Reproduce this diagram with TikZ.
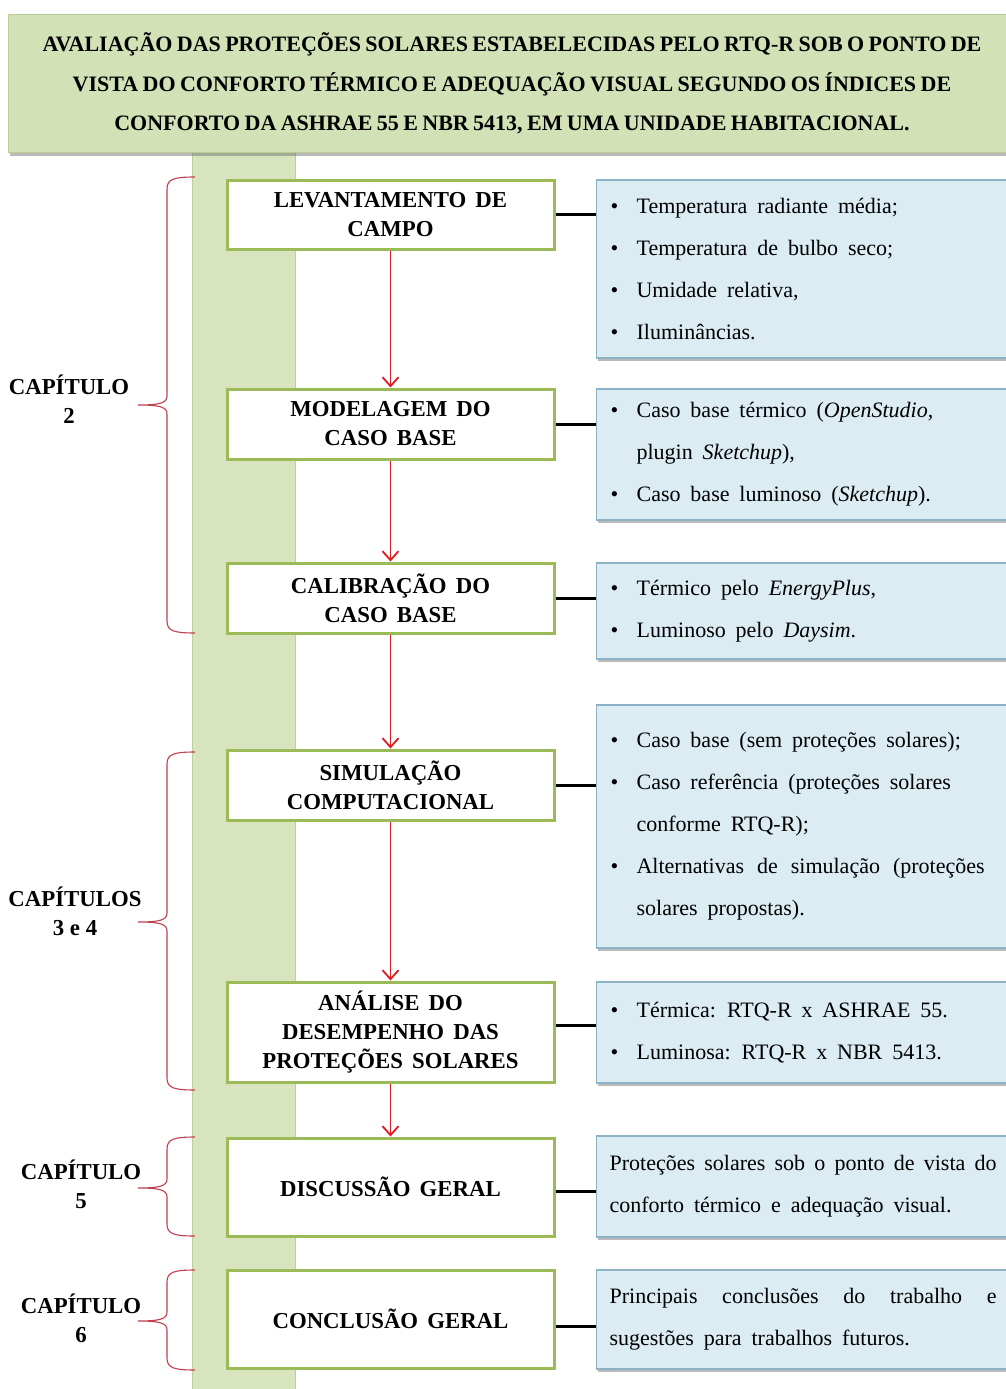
\documentclass[tikz,border=0pt]{standalone}
\usepackage{fontspec}
\setmainfont{Liberation Serif}
\usetikzlibrary{arrows.meta,shadows}

\definecolor{titlegreen}{RGB}{211,225,183}
\definecolor{titleedge}{RGB}{185,205,150}
\definecolor{bargreen}{RGB}{215,228,190}
\definecolor{baredge}{RGB}{188,206,155}
\definecolor{boxgreen}{RGB}{155,187,89}
\definecolor{infoblue}{RGB}{219,236,243}
\definecolor{infoedge}{RGB}{140,178,198}
\definecolor{flowred}{RGB}{222,28,36}
\definecolor{bracered}{RGB}{192,62,78}

\newcommand\titletext{\bfseries\fontsize{22}{39.5}\selectfont\spaceskip=0.2em\relax}
\newcommand\steptext{\bfseries\fontsize{22.8}{29}\selectfont\spaceskip=0.4em plus 0.1em\relax}
\newcommand\infotext{\fontsize{22}{42}\selectfont}
\newcommand\infospace{\spaceskip=0.45em plus 0.1em minus 0.05em\relax}
\newcommand\bul{\makebox[27pt][l]{\hspace{1pt}\textbullet}}
\newcommand\ind{\hspace*{27pt}}
% chapter brace: top y, bottom y, tip y
\newcommand\chbrace[3]{%
  \draw[bracestyle] (195,#1) .. controls (174,#1) and (167,#1+2) .. (167,#1+12)
    -- (167,#3-9) .. controls (167,#3-2) and (160,#3) .. (138,#3)
    .. controls (160,#3) and (167,#3+2) .. (167,#3+9)
    -- (167,#2-12) .. controls (167,#2-2) and (174,#2) .. (195,#2);}

\begin{document}
\begin{tikzpicture}[x=1pt,y=-1pt,
  stepbox/.style={draw=boxgreen, line width=3pt, fill=white,
    minimum width=327pt, inner sep=3pt, align=center, font=\steptext},
  infobox/.style={draw=infoedge, line width=1.2pt, fill=infoblue, anchor=west,
    text width=394pt, inner xsep=13pt, inner ysep=4pt, align=left, font=\infotext,
    execute at begin node=\infospace,
    drop shadow={shadow xshift=1pt, shadow yshift=-3pt, fill=black!60, opacity=0.45}},
  chaplabel/.style={align=center, font=\bfseries\fontsize{22.8}{29}\selectfont},
  flow/.style={draw=flowred, line width=1.8pt,
    -{Straight Barb[length=9pt,width=16pt,line width=1.8pt]}},
  link/.style={draw=black, line width=3pt},
  bracestyle/.style={draw=bracered, line width=1.1pt}]

\useasboundingbox (0,0) rectangle (1006,1389);
\clip (0,0) rectangle (1006,1389);
\fill[white] (0,0) rectangle (1006,1389);

% vertical guide bar
\fill[bargreen] (192,140) rectangle (296,1400);
\draw[baredge, line width=1.2pt] (192.5,140) -- (192.5,1400) (295.5,140) -- (295.5,1400);

% title banner
\node[draw=titleedge, line width=1pt, fill=titlegreen, minimum width=1008pt,
  minimum height=137pt, align=center, font=\titletext,
  drop shadow={shadow xshift=2pt, shadow yshift=-4pt, fill=black!60, opacity=0.45}]
  (title) at (512,83.5)
  {AVALIAÇÃO DAS PROTEÇÕES SOLARES ESTABELECIDAS PELO RTQ-R SOB O PONTO DE\\
   VISTA DO CONFORTO TÉRMICO E ADEQUAÇÃO VISUAL SEGUNDO OS ÍNDICES DE\\
   CONFORTO DA ASHRAE 55 E NBR 5413, EM UMA UNIDADE HABITACIONAL.};

% process steps
\node[stepbox, minimum height=69pt] (g1) at (390.5,214.5) {LEVANTAMENTO DE\\CAMPO};
\node[stepbox, minimum height=70pt] (g2) at (390.5,424) {MODELAGEM DO\\CASO BASE};
\node[stepbox, minimum height=70pt] (g3) at (390.5,598) {CALIBRAÇÃO DO\\CASO BASE};
\node[stepbox, minimum height=70pt] (g4) at (390.5,785) {SIMULAÇÃO\\COMPUTACIONAL};
\node[stepbox, minimum height=100pt] (g5) at (390.5,1032) {ANÁLISE DO\\DESEMPENHO DAS\\PROTEÇÕES SOLARES};
\node[stepbox, minimum height=98pt] (g6) at (390.5,1187) {DISCUSSÃO GERAL};
\node[stepbox, minimum height=98pt] (g7) at (390.5,1319) {CONCLUSÃO GERAL};

% detail boxes
\node[infobox, minimum height=178pt] (b1) at (596,269)
  {\bul Temperatura radiante média;\\
   \bul Temperatura de bulbo seco;\\
   \bul Umidade relativa,\\
   \bul Iluminâncias.};
\node[infobox, minimum height=131pt] (b2) at (596,454.5)
  {\bul Caso base térmico (\textit{OpenStudio},\\
   \ind plugin \textit{Sketchup}),\\
   \bul Caso base luminoso (\textit{Sketchup}).};
\node[infobox, minimum height=96pt] (b3) at (596,611)
  {\bul Térmico pelo \textit{EnergyPlus},\\
   \bul Luminoso pelo \textit{Daysim}.};
\node[infobox, minimum height=243pt] (b4) at (596,826.5)
  {\bul Caso base (sem proteções solares);\\
   \bul Caso referência (proteções solares\\
   \ind conforme RTQ-R);\\
   \bul \makebox[348pt][l]{Alternativas\hfill de\hfill simulação\hfill (proteções}\\
   \ind solares propostas).};
\node[infobox, minimum height=101pt] (b5) at (596,1032.5)
  {\bul Térmica: RTQ-R x ASHRAE 55.\\
   \bul Luminosa: RTQ-R x NBR 5413.};
\node[infobox, minimum height=101pt] (b6) at (596,1186.5)
  {\makebox[387pt][l]{Proteções\hfill solares\hfill sob\hfill o\hfill ponto\hfill de\hfill vista\hfill do}\\
   conforto térmico e adequação visual.};
\node[infobox, minimum height=99pt] (b7) at (596,1319.5)
  {\makebox[387pt][l]{Principais\hfill conclusões\hfill do\hfill trabalho\hfill e}\\
   sugestões para trabalhos futuros.};

% step-to-detail links
\draw[link] (g1.east) -- (g1.east -| b1.west);
\draw[link] (g2.east) -- (g2.east -| b2.west);
\draw[link] (g3.east) -- (g3.east -| b3.west);
\draw[link] (g4.east) -- (g4.east -| b4.west);
\draw[link] ([yshift=7pt]g5.east) -- ([yshift=7pt]g5.east -| b5.west);
\draw[link] ([yshift=-4pt]g6.east) -- ([yshift=-4pt]g6.east -| b6.west);
\draw[link] ([yshift=-7pt]g7.east) -- ([yshift=-7pt]g7.east -| b7.west);

% flow between steps
\draw[flow] (g1.south) -- (g2.north);
\draw[flow] (g2.south) -- (g3.north);
\draw[flow] (g3.south) -- (g4.north);
\draw[flow] (g4.south) -- (g5.north);
\draw[flow] (g5.south) -- (g6.north);

% chapter groupings
\chbrace{177}{633}{405}
\chbrace{752}{1090}{922}
\chbrace{1137}{1236}{1188}
\chbrace{1270}{1370}{1321}
\node[chaplabel] (c2) at (69,399.5) {CAPÍTULO\\2};
\node[chaplabel] (c34) at (75,911.5) {CAPÍTULOS\\3 e 4};
\node[chaplabel] (c5) at (81,1184) {CAPÍTULO\\5};
\node[chaplabel] (c6) at (81,1318.5) {CAPÍTULO\\6};
\end{tikzpicture}
\end{document}
